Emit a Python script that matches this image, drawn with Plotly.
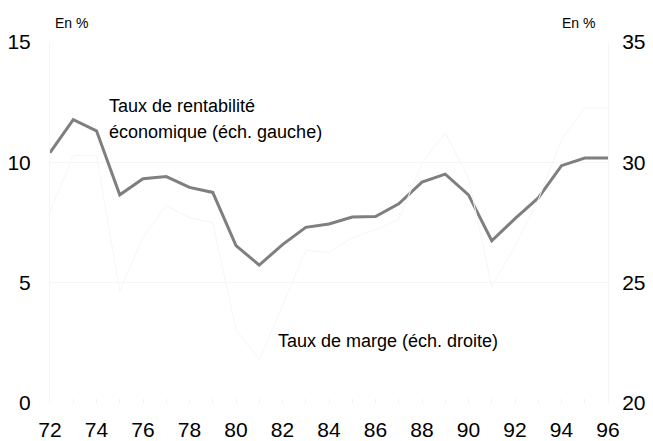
import plotly.graph_objects as go

years = list(range(72, 97))
rentabilite = [10.40, 11.77, 11.31, 8.65, 9.32, 9.41, 8.96, 8.75, 6.54, 5.73,
               6.58, 7.30, 7.44, 7.73, 7.75, 8.28, 9.18, 9.51, 8.65, 6.74,
               7.66, 8.52, 9.86, 10.18, 10.18]
marge = [27.95, 30.29, 30.27, 24.67, 26.87, 28.20, 27.70, 27.49, 23.05, 21.80,
         24.06, 26.34, 26.26, 26.87, 27.20, 27.62, 29.97, 31.22, 29.35, 24.84,
         26.51, 28.45, 30.94, 32.26, 32.26]
x_ticks = list(range(72, 97, 2))
left_ticks = [0, 5, 10, 15]
right_ticks = [20, 25, 30, 35]

FONT = "Liberation Sans, Arial, sans-serif"

fig = go.Figure()
fig.add_trace(go.Scatter(x=years, y=marge, mode="lines", yaxis="y2",
                         line=dict(color="#f6f6f6", width=1), showlegend=False))
fig.add_trace(go.Scatter(x=years, y=rentabilite, mode="lines",
                         line=dict(color="#7f7f7f", width=3), showlegend=False))

# page has an 8px body margin: figure is 645x433 placed at (8, 8)
fig.update_layout(
    width=645, height=433,
    margin=dict(l=42, r=45, t=34, b=38),
    paper_bgcolor="white", plot_bgcolor="white",
    font=dict(family=FONT, color="black"),
    xaxis=dict(range=[72, 96], tickvals=x_ticks, ticktext=[str(v) for v in x_ticks],
               showgrid=False, zeroline=False, showline=False, automargin=False,
               ticks="inside", ticklen=4, tickcolor="#f2f2f2",
               minor=dict(dtick=1, tick0=72, ticks="inside", ticklen=4, tickcolor="#f2f2f2"),
               tickfont=dict(size=21), ticklabelstandoff=12),
    yaxis=dict(range=[0, 15], tickvals=left_ticks, showgrid=True,
               gridcolor="#f6f6f6", gridwidth=1, zeroline=False, automargin=False,
               showline=True, linecolor="#f6f6f6", linewidth=1,
               ticks="", tickfont=dict(size=21), ticklabelstandoff=14),
    yaxis2=dict(range=[20, 35], tickvals=right_ticks, overlaying="y", side="right",
                showgrid=False, zeroline=False, showline=True, automargin=False,
                linecolor="#f6f6f6", linewidth=1,
                ticks="", tickfont=dict(size=21), ticklabelstandoff=9),
    annotations=[
        dict(text="En %", xref="paper", yref="paper", x=(71 - 50) / 558, y=(403 - 23) / 361,
             xanchor="center", yanchor="middle", showarrow=False, font=dict(size=14)),
        dict(text="En %", xref="paper", yref="paper", x=(578 - 50) / 558, y=(403 - 23) / 361,
             xanchor="center", yanchor="middle", showarrow=False, font=dict(size=14)),
        dict(text="Taux de rentabilité", xref="paper", yref="paper",
             x=(107 - 50) / 558, y=(403 - 106) / 361,
             xanchor="left", yanchor="middle", showarrow=False, font=dict(size=18)),
        dict(text="économique (éch. gauche)", xref="paper", yref="paper",
             x=(107 - 50) / 558, y=(403 - 132) / 361,
             xanchor="left", yanchor="middle", showarrow=False, font=dict(size=18)),
        dict(text="Taux de marge (éch. droite)", xref="paper", yref="paper",
             x=(276 - 50) / 558, y=(403 - 341) / 361,
             xanchor="left", yanchor="middle", showarrow=False, font=dict(size=18)),
    ],
)

fig.write_html("out.html")
